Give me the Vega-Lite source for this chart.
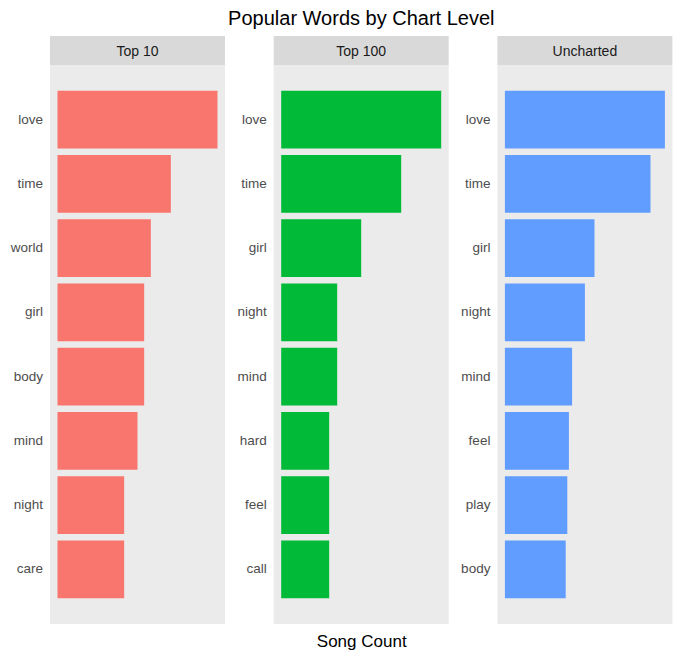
{
  "$schema": "https://vega.github.io/schema/vega-lite/v6.json",
  "padding": {"left": 10, "top": 9, "right": 5, "bottom": 5},
  "background": "white",
  "config": {
    "font": "Liberation Sans",
    "view": {"stroke": null},
    "axisY": {
      "title": null,
      "ticks": false,
      "domain": false,
      "grid": false,
      "labelFontSize": 13.5,
      "labelColor": "#4d4d4d",
      "labelPadding": 7.5
    }
  },
  "title": {
    "text": "Popular Words by Chart Level",
    "fontSize": 20,
    "fontWeight": "normal",
    "color": "#000000",
    "anchor": "middle",
    "dx": 20,
    "offset": 7
  },
  "datasets": {
    "levels": [
      {"level": "Top 10"},
      {"level": "Top 100"},
      {"level": "Uncharted"}
    ],
    "words": [
      {"level": "Top 10", "word": "love", "count": 24},
      {"level": "Top 10", "word": "time", "count": 17},
      {"level": "Top 10", "word": "world", "count": 14},
      {"level": "Top 10", "word": "girl", "count": 13},
      {"level": "Top 10", "word": "body", "count": 13},
      {"level": "Top 10", "word": "mind", "count": 12},
      {"level": "Top 10", "word": "night", "count": 10},
      {"level": "Top 10", "word": "care", "count": 10},
      {"level": "Top 100", "word": "love", "count": 20},
      {"level": "Top 100", "word": "time", "count": 15},
      {"level": "Top 100", "word": "girl", "count": 10},
      {"level": "Top 100", "word": "night", "count": 7},
      {"level": "Top 100", "word": "mind", "count": 7},
      {"level": "Top 100", "word": "hard", "count": 6},
      {"level": "Top 100", "word": "feel", "count": 6},
      {"level": "Top 100", "word": "call", "count": 6},
      {"level": "Uncharted", "word": "love", "count": 100},
      {"level": "Uncharted", "word": "time", "count": 91},
      {"level": "Uncharted", "word": "girl", "count": 56},
      {"level": "Uncharted", "word": "night", "count": 50},
      {"level": "Uncharted", "word": "mind", "count": 42},
      {"level": "Uncharted", "word": "feel", "count": 40},
      {"level": "Uncharted", "word": "play", "count": 39},
      {"level": "Uncharted", "word": "body", "count": 38}
    ]
  },
  "hconcat": [
    {
      "vconcat": [
        {
          "width": 175,
          "height": 29,
          "view": {"fill": "#d9d9d9", "stroke": null},
          "data": {"name": "levels"},
          "transform": [{"filter": "datum.level === 'Top 10'"}],
          "mark": {"type": "text", "fontSize": 14, "color": "#1a1a1a", "baseline": "middle", "align": "center", "dy": 1},
          "encoding": {"text": {"field": "level", "type": "nominal"}}
        },
        {
          "width": 175,
          "height": 559,
          "view": {"fill": "#ebebeb", "stroke": null},
          "data": {"name": "words"},
          "transform": [{"filter": "datum.level === 'Top 10'"}],
          "mark": {"type": "bar", "color": "#F8766D"},
          "encoding": {
            "y": {"field": "word", "type": "nominal", "sort": "-x", "scale": {"paddingInner": 0.1, "paddingOuter": 0.4}},
            "x": {"field": "count", "type": "quantitative", "scale": {"zero": false, "nice": false, "padding": 7.5}, "axis": null}
          }
        }
      ],
      "spacing": 0,
      "bounds": "flush"
    },
    {
      "vconcat": [
        {
          "width": 175,
          "height": 29,
          "view": {"fill": "#d9d9d9", "stroke": null},
          "data": {"name": "levels"},
          "transform": [{"filter": "datum.level === 'Top 100'"}],
          "mark": {"type": "text", "fontSize": 14, "color": "#1a1a1a", "baseline": "middle", "align": "center", "dy": 1},
          "encoding": {"text": {"field": "level", "type": "nominal"}}
        },
        {
          "width": 175,
          "height": 559,
          "view": {"fill": "#ebebeb", "stroke": null},
          "data": {"name": "words"},
          "transform": [{"filter": "datum.level === 'Top 100'"}],
          "mark": {"type": "bar", "color": "#00BA38"},
          "encoding": {
            "y": {"field": "word", "type": "nominal", "sort": "-x", "scale": {"paddingInner": 0.1, "paddingOuter": 0.4}},
            "x": {
              "field": "count",
              "type": "quantitative",
              "title": "Song Count",
              "scale": {"zero": false, "nice": false, "padding": 7.5},
              "axis": {"labels": false, "ticks": false, "domain": false, "grid": false, "titleFontSize": 17, "titleFontWeight": "normal", "titleColor": "#000000", "titlePadding": 9}
            }
          }
        }
      ],
      "spacing": 0,
      "bounds": "flush"
    },
    {
      "vconcat": [
        {
          "width": 175,
          "height": 29,
          "view": {"fill": "#d9d9d9", "stroke": null},
          "data": {"name": "levels"},
          "transform": [{"filter": "datum.level === 'Uncharted'"}],
          "mark": {"type": "text", "fontSize": 14, "color": "#1a1a1a", "baseline": "middle", "align": "center", "dy": 1},
          "encoding": {"text": {"field": "level", "type": "nominal"}}
        },
        {
          "width": 175,
          "height": 559,
          "view": {"fill": "#ebebeb", "stroke": null},
          "data": {"name": "words"},
          "transform": [{"filter": "datum.level === 'Uncharted'"}],
          "mark": {"type": "bar", "color": "#619CFF"},
          "encoding": {
            "y": {"field": "word", "type": "nominal", "sort": "-x", "scale": {"paddingInner": 0.1, "paddingOuter": 0.4}},
            "x": {"field": "count", "type": "quantitative", "scale": {"zero": false, "nice": false, "padding": 7.5}, "axis": null}
          }
        }
      ],
      "spacing": 0,
      "bounds": "flush"
    }
  ],
  "spacing": 11.7
}
